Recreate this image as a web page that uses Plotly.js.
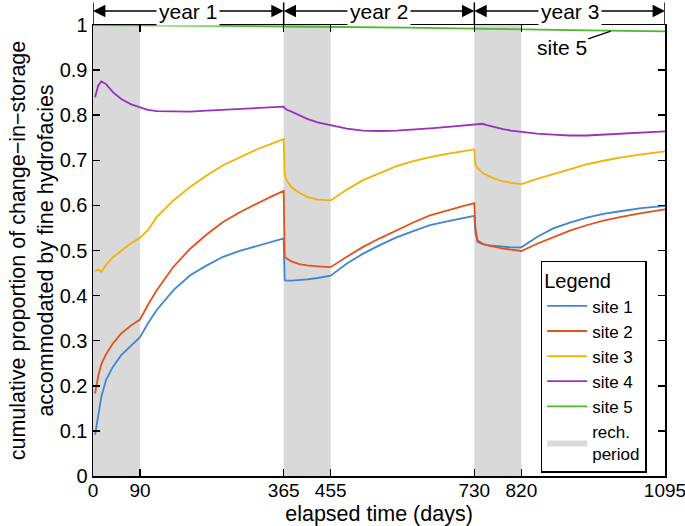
<!DOCTYPE html>
<html>
<head>
<meta charset="utf-8">
<script src="https://cdn.plot.ly/plotly-3.0.1.min.js"></script>
<style>html,body{margin:0;padding:0;background:#fff;}#chart{width:685px;height:526px;}</style>
</head>
<body>
<div id="chart"></div>
<script>
// elapsed time (days) for sites 1-4
const days = [4,10,16,25,38,54,73,90,105,122,154,186,218,249,281,313,340,365,
  367,371,380,395,410,430,455,486,517,549,581,613,645,680,710,730,
  732,736,746,754,770,785,800,820,850,881,913,945,977,1009,1050,1095];
const site1 = [0.091,0.133,0.176,0.213,0.242,0.268,0.290,0.308,0.338,0.368,0.412,0.445,0.467,0.486,0.499,0.510,0.519,0.527,
  0.434,0.433,0.433,0.434,0.436,0.439,0.444,0.471,0.493,0.512,0.529,0.543,0.556,0.565,0.572,0.577,
  0.540,0.519,0.514,0.512,0.510,0.508,0.507,0.507,0.530,0.549,0.562,0.573,0.581,0.587,0.594,0.599];
const site2 = [0.183,0.222,0.248,0.270,0.294,0.316,0.334,0.347,0.379,0.412,0.464,0.504,0.536,0.563,0.585,0.604,0.619,0.632,
  0.486,0.482,0.476,0.470,0.467,0.465,0.463,0.486,0.508,0.527,0.545,0.562,0.578,0.590,0.599,0.605,
  0.550,0.523,0.515,0.512,0.507,0.504,0.502,0.499,0.515,0.530,0.544,0.556,0.566,0.574,0.583,0.591];
const site3 = [0.455,0.458,0.453,0.468,0.485,0.499,0.516,0.528,0.545,0.574,0.611,0.641,0.667,0.689,0.707,0.724,0.736,0.747,
  0.667,0.655,0.640,0.628,0.619,0.613,0.611,0.635,0.656,0.672,0.687,0.698,0.707,0.715,0.720,0.724,
  0.690,0.683,0.672,0.667,0.659,0.653,0.650,0.647,0.659,0.670,0.681,0.691,0.699,0.706,0.713,0.720];
const site4 = [0.840,0.866,0.875,0.869,0.851,0.836,0.824,0.817,0.812,0.809,0.808,0.808,0.810,0.812,0.814,0.817,0.818,0.819,
  0.815,0.812,0.808,0.800,0.792,0.784,0.777,0.770,0.766,0.765,0.766,0.768,0.771,0.774,0.777,0.778,
  0.779,0.780,0.781,0.778,0.773,0.769,0.766,0.763,0.759,0.757,0.755,0.755,0.757,0.759,0.761,0.764];
// site 5
const daysSite5 = [0,120,250,365,455,600,730,820,950,1095];
const site5 = [1.0,0.9995,0.998,0.9967,0.996,0.994,0.992,0.990,0.988,0.986];
// recharge periods and years
const rechStart = [0,365,730];
const rechEnd = [90,455,820];
const yearBounds = [0,365,730,1095];
const yearLabels = ['year 1','year 2','year 3'];
const xTicks = [0,90,365,455,730,820,1095];
const xTickText = ['0','90','365','455','730','820','1095'];
const yTicks = [0,0.1,0.2,0.3,0.4,0.5,0.6,0.7,0.8,0.9,1];
const yTickText = ['0','0.1','0.2','0.3','0.4','0.5','0.6','0.7','0.8','0.9','1'];
const seriesNames = ['site 1','site 2','site 3','site 4','site 5'];
const seriesColors = ['#3f87cf','#e2521d','#f0b400','#9b2fbf','#4cb82a'];

const FONT = 'Liberation Sans, Arial, Helvetica, sans-serif';

// recharge shading as one fill trace
const rx = [], ry = [];
for (let i = 0; i < rechStart.length; i++) {
  rx.push(rechStart[i], rechEnd[i], rechEnd[i], rechStart[i], rechStart[i], null);
  ry.push(0, 0, 1, 1, 0, null);
}
const traces = [{
  x: rx, y: ry, type: 'scatter', mode: 'lines', fill: 'toself',
  fillcolor: '#d9d9d9', line: {width: 0, color: '#d9d9d9'},
  name: 'rech.<br>period', legendrank: 10, hoverinfo: 'skip'
}];
const ys = [site1, site2, site3, site4];
for (let i = 0; i < 4; i++) {
  traces.push({x: days, y: ys[i], type: 'scatter', mode: 'lines', name: seriesNames[i],
    line: {color: seriesColors[i], width: 1.8}, legendrank: i + 1});
}
traces.push({x: daysSite5, y: site5, type: 'scatter', mode: 'lines', name: seriesNames[4],
  line: {color: seriesColors[4], width: 1.8}, legendrank: 5});

const shapes = [];
for (const b of yearBounds) {
  shapes.push({type: 'line', xref: 'x', yref: 'paper', x0: b, x1: b, y0: 1, y1: 1.05,
    line: {color: '#000', width: 1.5}});
}
const annotations = [];
for (let i = 0; i < yearLabels.length; i++) {
  const a = yearBounds[i], b = yearBounds[i + 1], c = (a + b) / 2;
  for (const tip of [a, b]) {
    annotations.push({x: tip, y: 1.031, xref: 'x', yref: 'paper', ax: c, ay: 0,
      axref: 'x', ayref: 'pixel', text: '', showarrow: true, arrowhead: 2,
      arrowsize: 1.9, arrowwidth: 1.3, arrowcolor: '#000', standoff: 0, startstandoff: 0});
  }
}
for (let i = 0; i < yearLabels.length; i++) {
  const c = (yearBounds[i] + yearBounds[i + 1]) / 2;
  annotations.push({x: c, y: 1.031, xref: 'x', yref: 'paper', xanchor: 'center', yanchor: 'middle',
    text: yearLabels[i], showarrow: false, bgcolor: '#fff', borderpad: 2,
    font: {size: 21, color: '#000', family: FONT}});
}
annotations.push({x: 993, y: 0.987, xref: 'x', yref: 'y', text: 'site 5', showarrow: true,
  arrowhead: 0, arrowwidth: 1.2, arrowcolor: '#000', ax: -50, ay: 17, standoff: 1,
  font: {size: 21, color: '#000', family: FONT}});

const layout = {
  width: 685, height: 526,
  margin: {l: 93, r: 20, t: 25, b: 50, autoexpand: false},
  paper_bgcolor: '#fff', plot_bgcolor: '#fff',
  font: {family: FONT, size: 20, color: '#000'},
  showlegend: true,
  legend: {
    x: 0.968, y: 0.477, xanchor: 'right', yanchor: 'top',
    bgcolor: '#fff', bordercolor: '#000', borderwidth: 1.5,
    font: {size: 17, family: FONT, color: '#000'},
    title: {text: 'Legend', font: {size: 20, family: FONT, color: '#000'}},
    traceorder: 'normal', itemwidth: 40
  },
  xaxis: {
    range: [0, 1095], tickmode: 'array', tickvals: xTicks, ticktext: xTickText,
    ticks: 'inside', ticklen: 7, tickwidth: 1.5, tickcolor: '#000',
    showline: true, linewidth: 1.5, linecolor: '#000', mirror: 'ticks',
    showgrid: false, zeroline: false, tickfont: {size: 19}, automargin: false,
    ticklabeloverflow: 'allow', ticklabelstandoff: -3,
    title: {text: 'elapsed time (days)', font: {size: 21.5}}
  },
  yaxis: {
    range: [0, 1], tickmode: 'array', tickvals: yTicks, ticktext: yTickText,
    ticks: 'inside', ticklen: 7, tickwidth: 1.5, tickcolor: '#000',
    showline: true, linewidth: 1.5, linecolor: '#000', mirror: 'ticks',
    showgrid: false, zeroline: false, tickfont: {size: 20}, automargin: false,
    title: {text: 'cumulative proportion of change\u2212in\u2212storage<br>accommodated by fine hydrofacies', font: {size: 21.5}}
  },
  shapes: shapes,
  annotations: annotations
};
Plotly.newPlot('chart', traces, layout, {displayModeBar: false, staticPlot: true});
</script>
</body>
</html>
